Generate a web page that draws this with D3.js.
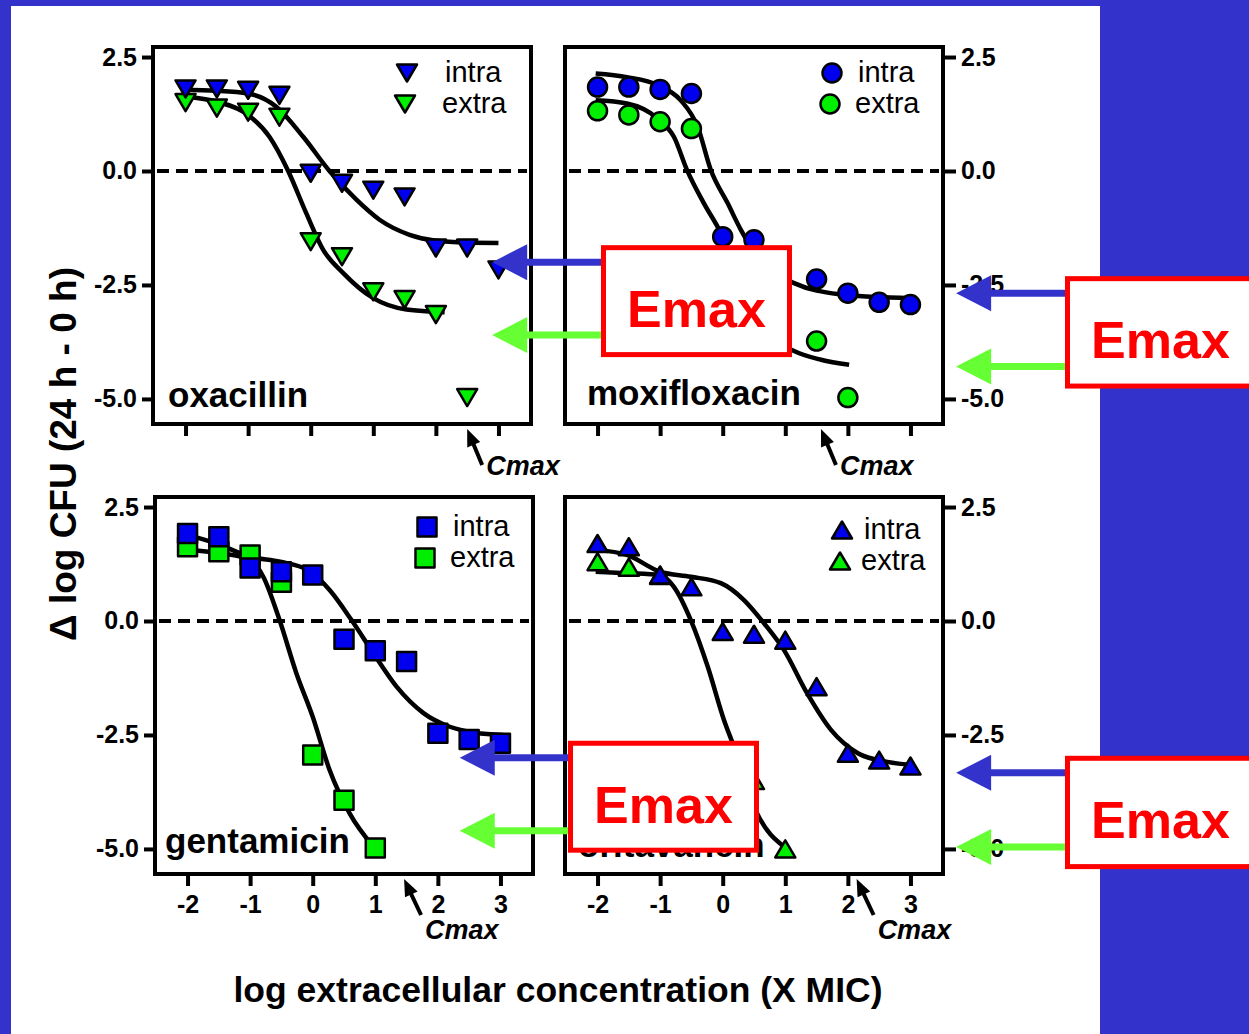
<!DOCTYPE html>
<html>
<head>
<meta charset="utf-8">
<script src="https://cdn.jsdelivr.net/npm/d3@7"></script>
<style>
body { margin: 0; background: #3333CC; }
text { font-family: "Liberation Sans", Arial, sans-serif; }
.tick line { stroke: #000; stroke-width: 4; }
.tick text { font-size: 25px; font-weight: bold; fill: #000; }
.domain { display: none; }
</style>
</head>
<body>
<div id="chart"></div>
<script>
// concentrations (log X MIC) where the points sit
var conc = [-2, -1.5, -1, -0.5, 0, 0.5, 1, 1.5, 2, 2.5, 3];
var drugs = ["oxacillin", "moxifloxacin", "gentamicin", "oritavancin"];
var seriesNames = ["intra", "extra"];
var xTicks = [-2, -1, 0, 1, 2, 3];
var yTicks = [-5, -2.5, 0, 2.5];

var oxaIntra = [1.80, 1.80, 1.77, 1.66, -0.05, -0.27, -0.42, -0.57, -1.69, -1.69, -2.17];
var oxaExtra = [1.50, 1.38, 1.29, 1.18, -1.55, -1.88, -2.65, -2.82, -3.15, -4.97, null];
var moxiIntra = [1.84, 1.84, 1.79, 1.70, -1.44, -1.51, null, -2.37, -2.68, -2.88, -2.93];
var moxiExtra = [1.32, 1.23, 1.08, 0.93, -2.3, -2.9, null, -3.73, -4.97, null, null];
var gentaIntra = [1.92, 1.85, 1.16, 1.08, 1.01, -0.40, -0.65, -0.89, -2.46, -2.60, -2.68];
var gentaExtra = [1.63, 1.52, 1.45, 0.85, -2.94, -3.93, -4.98, null, null, null, null];
var oritaIntra = [1.70, 1.63, 1.01, 0.75, -0.23, -0.29, -0.42, -1.44, -2.90, -3.05, -3.18];
var oritaExtra = [1.30, 1.18, 1.00, null, -3.0, -3.5, -5.0, null, null, null, null];

// fitted curves
var oxaIntraFit = [[-2.05,1.78],[-1.5,1.76],[-1,1.70],[-0.55,1.41],[-0.12,0.75],[0.3,0.0],[0.73,-0.63],[1.1,-1.07],[1.58,-1.40],[2.0,-1.53],[2.5,-1.57],[3.0,-1.58]];
var oxaExtraFit = [[-2.0,1.63],[-1.5,1.52],[-1.0,1.23],[-0.66,0.75],[-0.36,0.0],[-0.07,-0.93],[0.2,-1.73],[0.52,-2.24],[1.0,-2.79],[1.53,-3.04],[2.14,-3.1]];
var moxiIntraFit = [[-2.03,2.14],[-1.53,2.06],[-1.03,1.88],[-0.67,1.55],[-0.4,0.97],[-0.19,0.02],[0.08,-0.71],[0.29,-1.29],[0.7,-2.1],[1.14,-2.46],[1.89,-2.71],[2.42,-2.76],[3.02,-2.79]];
var moxiExtraFit = [[-2.03,1.55],[-1.53,1.48],[-1.04,1.15],[-0.78,0.75],[-0.57,0.02],[-0.3,-0.71],[-0.03,-1.36],[0.5,-3.3],[1.14,-3.95],[1.57,-4.14],[2.02,-4.25]];
var gentaIntraFit = [[-2.0,1.89],[-1.54,1.70],[-1.0,1.41],[-0.52,1.30],[-0.08,1.12],[0.27,0.68],[0.62,0.02],[0.97,-0.71],[1.34,-1.44],[1.77,-2.02],[2.19,-2.32],[2.6,-2.45],[3.04,-2.5]];
var gentaExtraFit = [[-2.0,1.56],[-1.43,1.48],[-1.0,1.34],[-0.79,0.97],[-0.53,0.02],[-0.26,-1.15],[0.0,-2.1],[0.27,-3.27],[0.59,-4.22],[0.97,-4.95]];
var oritaIntraFit = [[-2.02,1.56],[-1.53,1.45],[-1.0,1.08],[-0.51,0.97],[-0.03,0.83],[0.34,0.46],[0.66,-0.05],[0.98,-0.64],[1.35,-1.59],[1.73,-2.39],[2.16,-2.9],[2.63,-3.09],[3.06,-3.16]];
var oritaExtraFit = [[-2.03,1.08],[-1.53,1.05],[-1.0,1.01],[-0.78,0.75],[-0.51,0.02],[-0.24,-1.0],[0.02,-2.17],[0.18,-2.76],[0.55,-4.22],[0.98,-4.95]];

// Cmax (log X MIC) and the Emax levels the arrows point at
var cmax = [2.5, 1.57, 1.46, 2.14];
var emaxIntra = [-2.0, -2.68, -3.0, -3.33];
var emaxExtra = [-3.6, -4.29, -4.6, -4.96];
var emaxAt = [2.9, 3.73, 2.35, 3.73];

var width = 1249, height = 1034;
var pw = 378, ph = 377;
var blue = "#3333CC", green = "#66FF33";

var panels = [
	{ shape: "down",   intra: oxaIntra,   extra: oxaExtra,   intraFit: oxaIntraFit,   extraFit: oxaExtraFit,   x0: 153, y0: 47,  yside: "left",  xlab: false, lab: [168, 407], leg: [407, 445, 73], box: 601 },
	{ shape: "circle", intra: moxiIntra,  extra: moxiExtra,  intraFit: moxiIntraFit,  extraFit: moxiExtraFit,  x0: 565, y0: 47,  yside: "right", xlab: false, lab: [587, 405], leg: [832, 858, 73], box: 1065 },
	{ shape: "square", intra: gentaIntra, extra: gentaExtra, intraFit: gentaIntraFit, extraFit: gentaExtraFit, x0: 155, y0: 497, yside: "left",  xlab: true,  lab: [165, 853], leg: [427, 453, 527], box: 568 },
	{ shape: "up",     intra: oritaIntra, extra: oritaExtra, intraFit: oritaIntraFit, extraFit: oritaExtraFit, x0: 565, y0: 497, yside: "right", xlab: true,  lab: [578, 857], leg: [842, 864, 530], box: 1065 }
];

var svg = d3.select("#chart").append("svg")
	.attr("width", width)
	.attr("height", height);

svg.append("rect")
	.attr("width", width)
	.attr("height", height)
	.attr("fill", blue);

svg.append("rect")
	.attr("x", 11)
	.attr("y", 6)
	.attr("width", 1089)
	.attr("height", 1028)
	.attr("fill", "#fff");

function marker(g, shape, cx, cy, fill) {
	var m;
	if (shape == "circle") {
		m = g.append("circle").attr("cx", cx).attr("cy", cy).attr("r", 9.5);
	} else if (shape == "square") {
		m = g.append("rect").attr("x", cx - 9.5).attr("y", cy - 9.5).attr("width", 19).attr("height", 19);
	} else if (shape == "down") {
		m = g.append("path").attr("d", "M" + (cx - 10) + "," + (cy - 8.5) + "L" + (cx + 10) + "," + (cy - 8.5) + "L" + cx + "," + (cy + 8.5) + "Z");
	} else {
		m = g.append("path").attr("d", "M" + (cx - 10) + "," + (cy + 8.5) + "L" + (cx + 10) + "," + (cy + 8.5) + "L" + cx + "," + (cy - 8.5) + "Z");
	}
	m.attr("fill", fill).attr("stroke", "#000").attr("stroke-width", 2.5).attr("stroke-linejoin", "round");
}

var scales = [];

panels.forEach(function(p, i) {
	var x = d3.scaleLinear().domain([-2.52, 3.52]).range([0, pw]);
	var y = d3.scaleLinear().domain([-5.55, 2.72]).range([ph, 0]);
	scales.push({ x: x, y: y });

	var g = svg.append("g")
		.attr("transform", "translate(" + p.x0 + "," + p.y0 + ")");

	g.append("line")
		.attr("x1", 4)
		.attr("x2", pw - 4)
		.attr("y1", y(0))
		.attr("y2", y(0))
		.attr("stroke", "#000")
		.attr("stroke-width", 4)
		.attr("stroke-dasharray", "12,7");

	var line = d3.line()
		.x(function(d) { return x(d[0]); })
		.y(function(d) { return y(d[1]); })
		.curve(d3.curveMonotoneX);

	[p.intraFit, p.extraFit].forEach(function(fit) {
		g.append("path")
			.attr("d", line(fit))
			.attr("fill", "none")
			.attr("stroke", "#000")
			.attr("stroke-width", 4.5);
	});

	conc.forEach(function(c, j) {
		if (p.extra[j] != null) marker(g, p.shape, x(c), y(p.extra[j]), "#00EE00");
	});
	conc.forEach(function(c, j) {
		if (p.intra[j] != null) marker(g, p.shape, x(c), y(p.intra[j]), "#0000EE");
	});

	g.append("rect")
		.attr("width", pw)
		.attr("height", ph)
		.attr("fill", "none")
		.attr("stroke", "#000")
		.attr("stroke-width", 4);

	var fmt = function(d) { return d.toFixed(1); };
	if (p.yside == "left") {
		g.append("g")
			.call(d3.axisLeft(y).tickValues(yTicks).tickSize(11).tickPadding(5).tickFormat(fmt));
	} else {
		g.append("g")
			.attr("transform", "translate(" + pw + ",0)")
			.call(d3.axisRight(y).tickValues(yTicks).tickSize(13).tickPadding(5).tickFormat(fmt));
	}

	g.append("g")
		.attr("transform", "translate(0," + ph + ")")
		.call(d3.axisBottom(x).tickValues(xTicks).tickSize(12).tickPadding(9)
			.tickFormat(function(d) { return p.xlab ? String(d) : ""; }));

	// legend
	seriesNames.forEach(function(s, k) {
		marker(svg, p.shape, p.leg[0] - k * 2, p.leg[2] + k * 31, k == 0 ? "#0000EE" : "#00EE00");
		svg.append("text")
			.attr("x", p.leg[1] - k * 3)
			.attr("y", p.leg[2] + 9 + k * 31)
			.attr("font-size", 29)
			.text(s);
	});

	svg.append("text")
		.attr("x", p.lab[0])
		.attr("y", p.lab[1])
		.attr("font-size", 35)
		.attr("font-weight", "bold")
		.text(drugs[i]);

	// Cmax arrow under the x axis
	var tx = p.x0 + x(cmax[i]), ty = p.y0 + ph + 5;
	var sx = tx + (p.xlab ? 17 : 15), sy = ty + 36;
	var len = Math.sqrt((sx - tx) * (sx - tx) + (sy - ty) * (sy - ty));
	var ux = (sx - tx) / len, uy = (sy - ty) / len;
	svg.append("line")
		.attr("x1", sx).attr("y1", sy)
		.attr("x2", tx + ux * 10).attr("y2", ty + uy * 10)
		.attr("stroke", "#000")
		.attr("stroke-width", 4);
	svg.append("path")
		.attr("d", "M" + tx + "," + ty + "L" + (tx + ux * 17 - uy * 7) + "," + (ty + uy * 17 + ux * 7) + "L" + (tx + ux * 17 + uy * 7) + "," + (ty + uy * 17 - ux * 7) + "Z")
		.attr("fill", "#000");
	svg.append("text")
		.attr("x", tx + (p.xlab ? 21 : 19))
		.attr("y", p.y0 + ph + (p.xlab ? 65 : 51))
		.attr("font-size", 27)
		.attr("font-weight", "bold")
		.attr("font-style", "italic")
		.text("Cmax");
});

// Emax arrows and boxes
panels.forEach(function(p, i) {
	var s = scales[i];
	var tip = p.x0 + s.x(emaxAt[i]);
	var yb = p.y0 + s.y(emaxIntra[i]);
	var yg = p.y0 + s.y(emaxExtra[i]);
	[[yb, blue], [yg, green]].forEach(function(a) {
		svg.append("line")
			.attr("x1", tip + 30).attr("y1", a[0])
			.attr("x2", p.box).attr("y2", a[0])
			.attr("stroke", a[1])
			.attr("stroke-width", 7);
		svg.append("path")
			.attr("d", "M" + tip + "," + a[0] + "L" + (tip + 35) + "," + (a[0] - 18) + "L" + (tip + 35) + "," + (a[0] + 18) + "Z")
			.attr("fill", a[1]);
	});

	var top = yb - 17, bot = yg + 22;
	svg.append("rect")
		.attr("x", p.box + 2.5)
		.attr("y", top + 2.5)
		.attr("width", 186)
		.attr("height", bot - top - 5)
		.attr("fill", "#fff")
		.attr("stroke", "#FF0000")
		.attr("stroke-width", 5);
	svg.append("text")
		.attr("x", p.box + 95.5)
		.attr("y", (top + bot) / 2 + 26)
		.attr("text-anchor", "middle")
		.attr("font-size", 52)
		.attr("font-weight", "bold")
		.attr("fill", "#FF0000")
		.text("Emax");
});

svg.append("text")
	.attr("transform", "translate(76,454) rotate(-90)")
	.attr("text-anchor", "middle")
	.attr("font-size", 37)
	.attr("font-weight", "bold")
	.text("\u0394 log CFU (24 h - 0 h)");

svg.append("text")
	.attr("x", 558)
	.attr("y", 1002)
	.attr("text-anchor", "middle")
	.attr("font-size", 35.5)
	.attr("font-weight", "bold")
	.text("log extracellular concentration (X MIC)");
</script>
</body>
</html>
